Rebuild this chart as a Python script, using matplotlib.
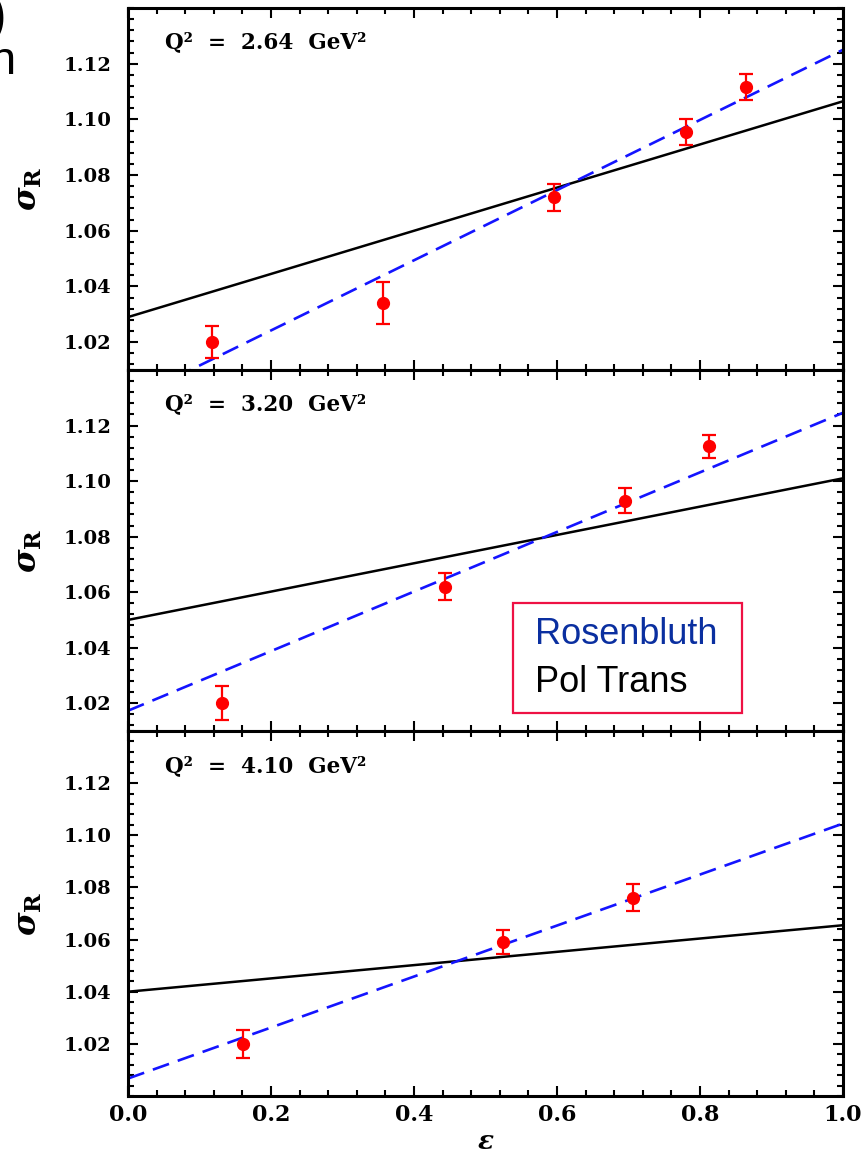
import matplotlib
matplotlib.use('Agg')
import matplotlib.pyplot as plt
from matplotlib.ticker import MultipleLocator, FixedLocator
from matplotlib.patches import Rectangle

# data
q2_labels = ['Q²  =  2.64  GeV²', 'Q²  =  3.20  GeV²', 'Q²  =  4.10  GeV²']

eps1 = [0.117, 0.356, 0.596, 0.781, 0.864]
sig1 = [1.020, 1.034, 1.072, 1.0955, 1.1115]
err1 = [0.0058, 0.0075, 0.0048, 0.0047, 0.0047]

eps2 = [0.132, 0.443, 0.695, 0.812]
sig2 = [1.020, 1.062, 1.093, 1.1125]
err2 = [0.0062, 0.0049, 0.0045, 0.0042]

eps3 = [0.161, 0.524, 0.706]
sig3 = [1.020, 1.059, 1.076]
err3 = [0.0054, 0.0046, 0.0052]

# straight lines, values at eps = 0 and eps = 1
line_eps = [0.0, 1.0]
ros1 = [0.999, 1.125]
pol1 = [1.029, 1.1065]
ros2 = [1.0173, 1.1246]
pol2 = [1.050, 1.101]
ros3 = [1.0067, 1.1045]
pol3 = [1.040, 1.0655]

yticks = [1.02, 1.04, 1.06, 1.08, 1.10, 1.12]
xticks = [0.0, 0.2, 0.4, 0.6, 0.8, 1.0]

plt.rcParams['font.family'] = 'DejaVu Serif'
plt.rcParams['font.weight'] = 'bold'
plt.rcParams['mathtext.fontset'] = 'custom'
plt.rcParams['mathtext.it'] = 'DejaVu Serif:italic:bold'
plt.rcParams['mathtext.rm'] = 'DejaVu Serif:bold'

W, H = 861, 1161
fig = plt.figure(figsize=(W / 100, H / 100), dpi=100)

left = 128 / W
width = (843 - 128) / W
edges = [8, 370, 731, 1096]
ylims = [(1.01, 1.14), (1.01, 1.14), (1.00, 1.14)]

panels = [(eps1, sig1, err1, ros1, pol1),
          (eps2, sig2, err2, ros2, pol2),
          (eps3, sig3, err3, ros3, pol3)]

for i, (e, s, er, ros, pol) in enumerate(panels):
    top, bot = edges[i], edges[i + 1]
    ax = fig.add_axes([left, 1 - bot / H, width, (bot - top) / H])
    ax.plot(line_eps, pol, color='black', lw=1.8, solid_capstyle='butt')
    ax.plot(line_eps, ros, color='#1414ff', lw=1.9, dashes=(6.5, 3.5))
    ax.errorbar(e, s, yerr=er, fmt='o', color='#ff0000', ms=8.5,
                elinewidth=1.6, capsize=5, capthick=1.6, zorder=5)
    ax.set_xlim(0, 1)
    ax.set_ylim(*ylims[i])
    ax.xaxis.set_major_locator(FixedLocator(xticks))
    ax.xaxis.set_minor_locator(MultipleLocator(0.04))
    ax.yaxis.set_major_locator(FixedLocator(yticks))
    ax.yaxis.set_minor_locator(MultipleLocator(0.004))
    ax.tick_params(which='both', direction='in', top=True, right=True, width=1.5)
    ax.tick_params(which='major', length=7)
    ax.tick_params(which='minor', length=4)
    ax.tick_params(axis='y', labelsize=14, pad=12)
    ax.tick_params(axis='x', labelsize=16, pad=6)
    ax.set_yticklabels(['%.2f' % t for t in yticks])
    for sp in ax.spines.values():
        sp.set_linewidth(2.2)
    ax.text(0.052, 0.905, q2_labels[i], transform=ax.transAxes,
            fontsize=15.5, fontweight='bold', va='center', ha='left')
    ax.set_ylabel(r'$\sigma_{\mathrm{R}}$', fontsize=23, labelpad=14)
    if i < 2:
        ax.tick_params(axis='x', labelbottom=False)
    else:
        ax.set_xticklabels(['%.1f' % t for t in xticks])
        ax.set_xlabel(r'$\varepsilon$', fontsize=19, labelpad=2)

# legend box drawn in figure coordinates
fig.add_artist(Rectangle((513 / W, 1 - 713 / H), (742 - 513) / W, (713 - 603) / H,
                         transform=fig.transFigure, fill=False,
                         edgecolor='#ee1144', lw=1.6))
fig.text(535 / W, 1 - 635 / H, 'Rosenbluth', color='#0a2fa0',
         fontsize=26, family='Liberation Sans', fontweight='normal', va='center')
fig.text(535 / W, 1 - 682 / H, 'Pol Trans', color='black',
         fontsize=26, family='Liberation Sans', fontweight='normal', va='center')

# cropped fragments of a slide title at the top left
fig.text(-0.012, 1 - 18 / H, ')', fontsize=34, family='Liberation Sans',
         fontweight='bold', va='center')
fig.text(-0.012, 1 - 62 / H, 'n', fontsize=34, family='Liberation Sans',
         fontweight='normal', va='center')

fig.savefig('out.png', dpi=100)
